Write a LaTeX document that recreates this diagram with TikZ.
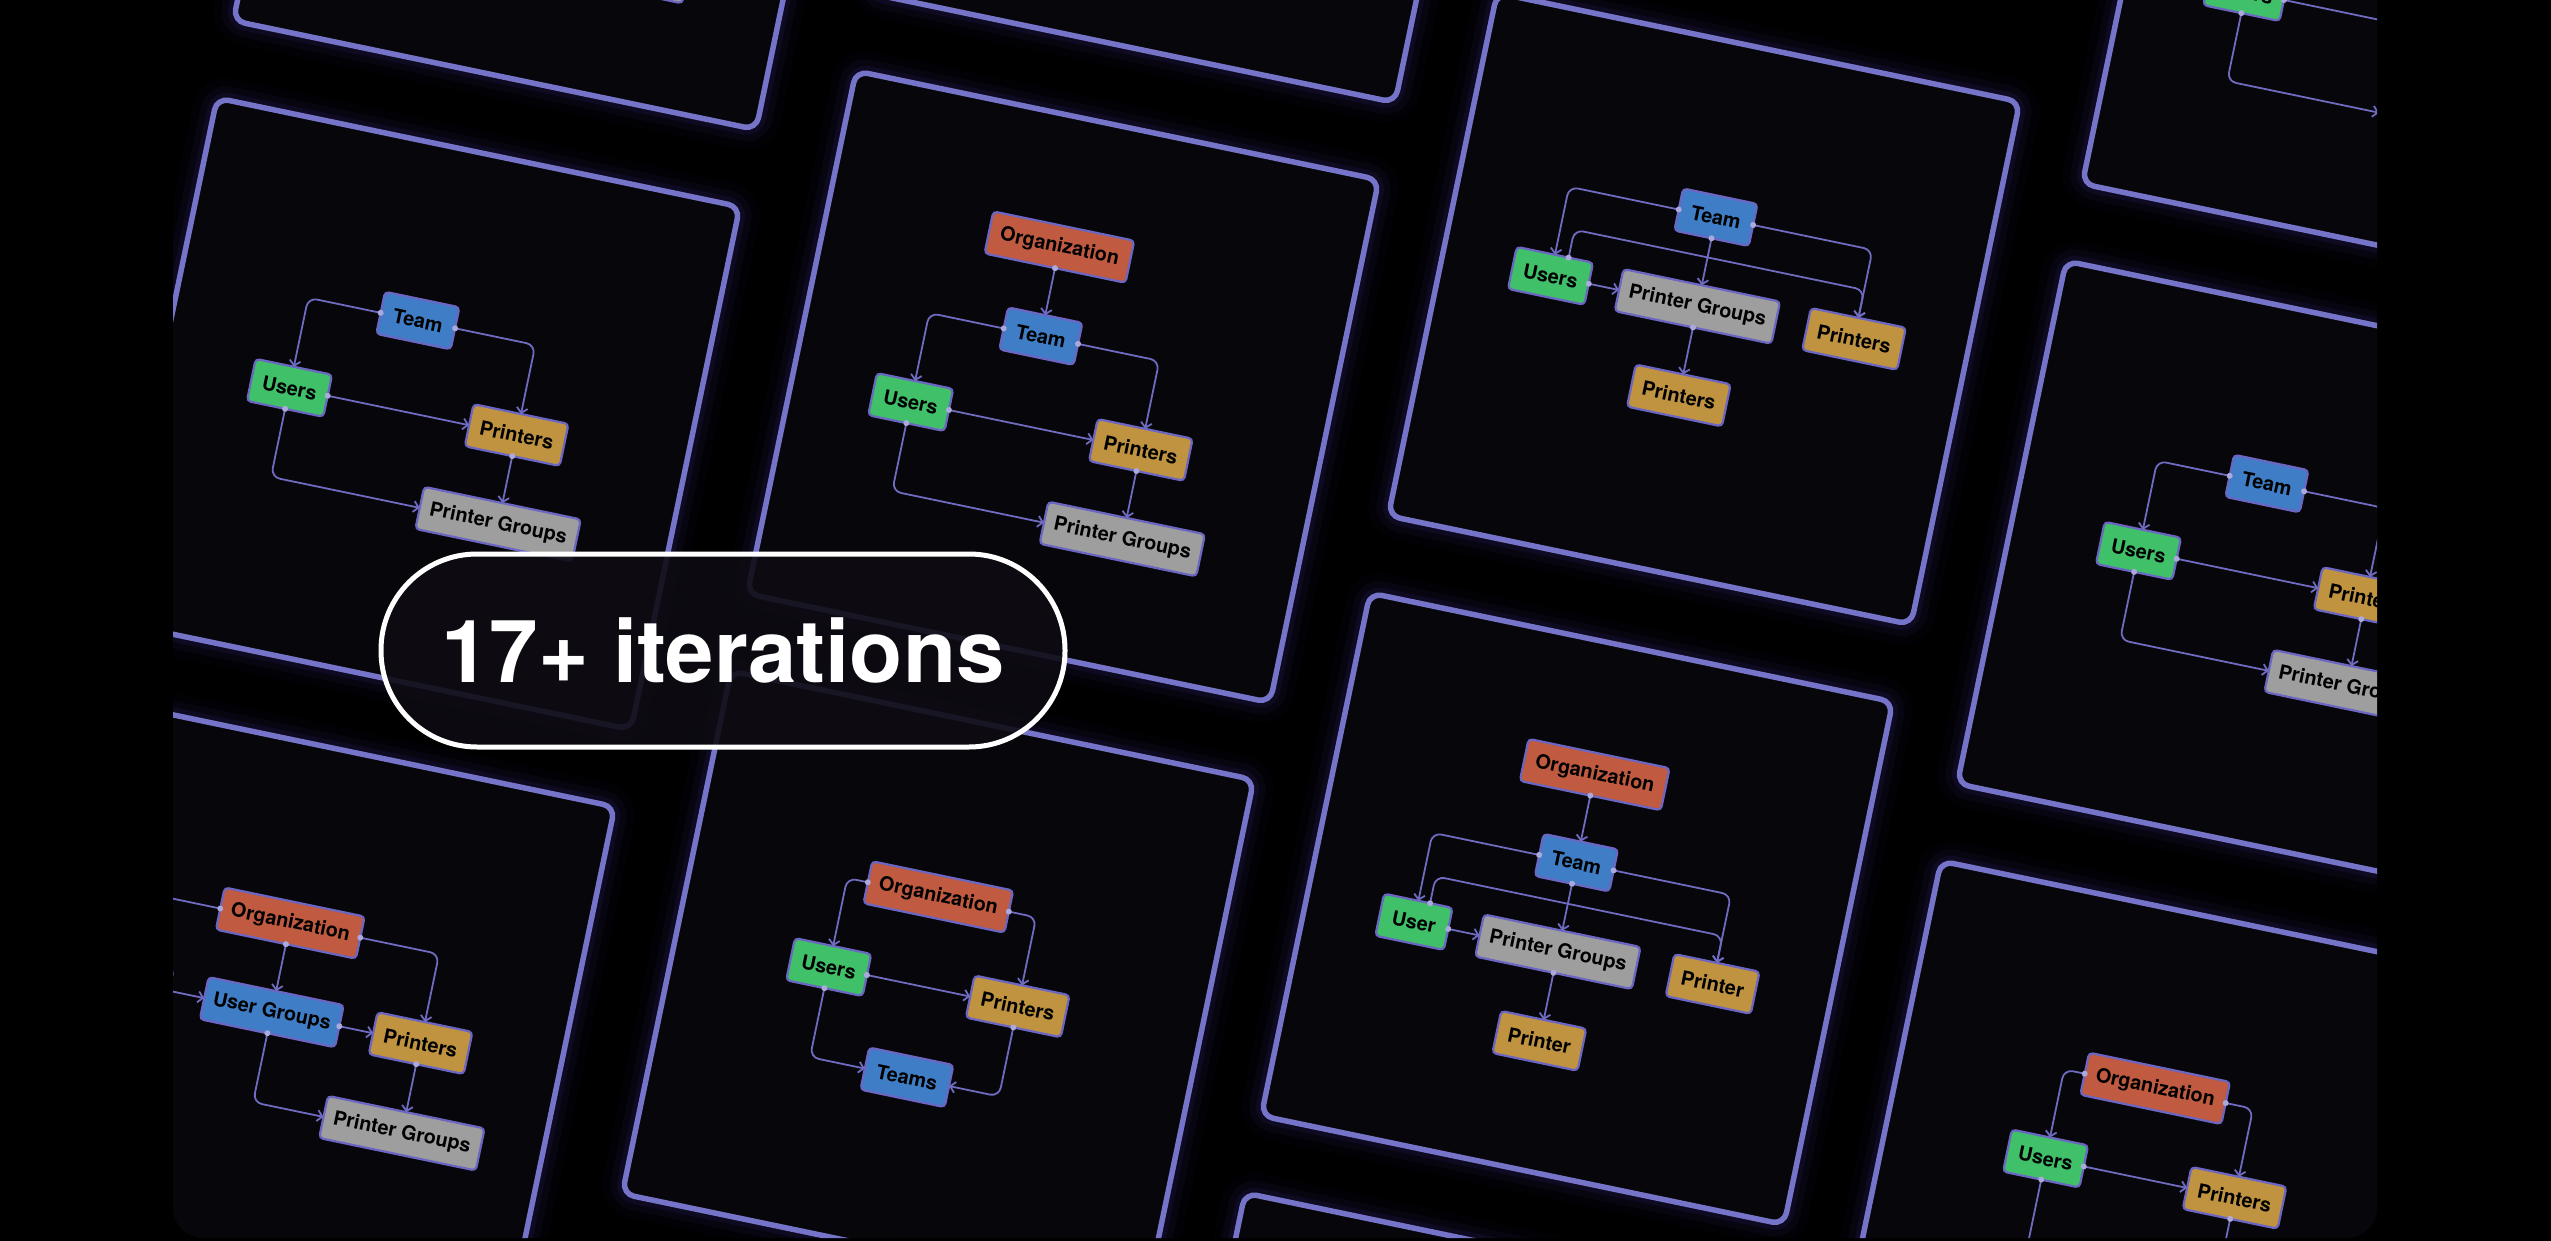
\documentclass[tikz,border=0pt]{standalone}
\usepackage{fontspec}
\setmainfont{TeX Gyre Heros}
\newfontfamily\lblfont{TeX Gyre Heros}
\usetikzlibrary{arrows.meta}
\definecolor{cardc}{HTML}{07060A}
\definecolor{edgec}{HTML}{7674C8}
\definecolor{glowc}{HTML}{5B45D6}
\definecolor{linec}{HTML}{6E6BC0}
\definecolor{nodeedge}{HTML}{6A66C2}
\definecolor{dotc}{HTML}{ABA9DC}
\definecolor{orgc}{HTML}{C05A40}
\definecolor{teamc}{HTML}{3F7EC6}
\definecolor{userc}{HTML}{40C068}
\definecolor{prnc}{HTML}{C09341}
\definecolor{pgc}{HTML}{9E9E9E}
\definecolor{pillc}{HTML}{0E0B13}
\tikzset{
  box/.style={draw=nodeedge, line width=2.2pt, rounded corners=4pt, minimum height=43pt,
    inner sep=0pt, outer sep=0pt, font=\lblfont\bfseries\fontsize{19.8}{22}\selectfont, text=black},
  orgbox/.style={box, fill=orgc, minimum width=144pt},
  teambox/.style={box, fill=teamc},
  userbox/.style={box, fill=userc},
  prnbox/.style={box, fill=prnc},
  pgbox/.style={box, fill=pgc, minimum width=160pt},
  cn/.style={draw=linec, line width=1.8pt, rounded corners=9pt,
    -{Straight Barb[length=5pt,width=11pt,line width=1.8pt]}},
  cardbody/.style={draw=edgec, fill=cardc, line width=5.5pt, rounded corners=12pt},
  glowline/.style={draw=glowc, rounded corners=12pt},
  pillbox/.style={draw=white, line width=5pt, fill=pillc, fill opacity=0.9, draw opacity=1,
    text opacity=1, text=white, rounded corners=96pt, minimum width=684pt, minimum height=193pt,
    inner sep=0pt, font=\fontsize{87}{90}\selectfont\bfseries}
}
\newcommand\srcdots[2]{\foreach \a in {#2} {\fill[dotc] (#1\a) circle[radius=3pt];}}
\newcommand\card[2]{%
  \begin{scope}[shift={#1}, rotate=-11.75, transform shape]
    \draw[glowline, line width=44pt, opacity=0.03] (0,0) rectangle (534,534);
    \draw[glowline, line width=28pt, opacity=0.05] (0,0) rectangle (534,534);
    \draw[glowline, line width=15pt, opacity=0.09] (0,0) rectangle (534,534);
    \draw[cardbody] (0,0) rectangle (534,534);
    #2
  \end{scope}}
% Organization / Team / Users / Printers / Printer Groups
\newcommand\layOne[1]{%
  \node[orgbox] (#1o) at (235,131) {Organization};
  \node[teambox, minimum width=76pt] (#1t) at (235,222) {Team};
  \node[userbox, minimum width=78pt] (#1u) at (121,313) {Users};
  \node[prnbox, minimum width=97pt] (#1p) at (356,313) {Printers};
  \node[pgbox] (#1g) at (356,404) {Printer Groups};
  \draw[cn] (#1o.south) -- (#1t.north);
  \draw[cn] (#1t.west) -- ++(-76,0) -- (#1u.north);
  \draw[cn] (#1t.east) -- ++(83,0) -- (#1p.north);
  \draw[cn] (#1u.east) -- (#1p.west);
  \draw[cn] (#1u.south) -- ++(0,69.5) -- (#1g.west);
  \draw[cn] (#1p.south) -- (#1g.north);
  \srcdots{#1}{o.south,t.west,t.east,u.east,u.south,p.south}}
% Team / Users / Printers / Printer Groups
\newcommand\layTwo[1]{%
  \node[teambox, minimum width=76pt] (#1t) at (242,177) {Team};
  \node[userbox, minimum width=78pt] (#1u) at (130,269) {Users};
  \node[prnbox, minimum width=97pt] (#1p) at (362,269) {Printers};
  \node[pgbox] (#1g) at (362,360) {Printer Groups};
  \draw[cn] (#1t.west) -- ++(-74,0) -- (#1u.north);
  \draw[cn] (#1t.east) -- ++(82,0) -- (#1p.north);
  \draw[cn] (#1u.east) -- (#1p.west);
  \draw[cn] (#1u.south) -- ++(0,69.5) -- (#1g.west);
  \draw[cn] (#1p.south) -- (#1g.north);
  \srcdots{#1}{t.west,t.east,u.east,u.south,p.south}}
% Organization / Team / User / Printer Groups / Printer / Printer
\newcommand\layThree[1]{%
  \node[orgbox] (#1o) at (257,132) {Organization};
  \node[teambox, minimum width=76pt] (#1t) at (257,222) {Team};
  \node[userbox, minimum width=70pt] (#1u) at (110,313) {User};
  \node[pgbox] (#1g) at (257,313) {Printer Groups};
  \node[prnbox, minimum width=87pt] (#1r) at (415,313) {Printer};
  \node[prnbox, minimum width=87pt] (#1b) at (257,404) {Printer};
  \draw[cn] (#1o.south) -- (#1t.north);
  \draw[cn] (#1t.west) -- ++(-109,0) -- (#1u.north);
  \draw[cn] (#1u.north) ++(12,0) -- ++(0,-27.5) -- ++(293,0) -- (#1r.north);
  \draw[cn] (#1t.east) -- ++(120,0) -- (#1r.north);
  \draw[cn] (#1t.south) -- (#1g.north);
  \draw[cn] (#1u.east) -- (#1g.west);
  \draw[cn] (#1g.south) -- (#1b.north);
  \fill[dotc] (#1u.north) ++(12,0) circle[radius=3pt];
  \srcdots{#1}{o.south,t.west,t.east,t.south,u.east,g.south}}
% Team / Users / Printer Groups / Printers / Printers
\newcommand\layFour[1]{%
  \node[teambox, minimum width=76pt] (#1t) at (260,175) {Team};
  \node[userbox, minimum width=78pt] (#1u) at (110,266) {Users};
  \node[pgbox] (#1g) at (260,266) {Printer Groups};
  \node[prnbox, minimum width=97pt] (#1r) at (420,266) {Printers};
  \node[prnbox, minimum width=97pt] (#1b) at (260,357) {Printers};
  \draw[cn] (#1t.west) -- ++(-112,0) -- (#1u.north);
  \draw[cn] (#1u.north) ++(14,0) -- ++(0,-28.5) -- ++(296,0) -- (#1r.north);
  \draw[cn] (#1t.east) -- ++(122,0) -- (#1r.north);
  \draw[cn] (#1t.south) -- (#1g.north);
  \draw[cn] (#1u.east) -- (#1g.west);
  \draw[cn] (#1g.south) -- (#1b.north);
  \fill[dotc] (#1u.north) ++(14,0) circle[radius=3pt];
  \srcdots{#1}{t.west,t.east,t.south,u.east,g.south}}
% Organization / Users / Printers / Teams
\newcommand\layFive[1]{%
  \node[orgbox] (#1o) at (249,179) {Organization};
  \node[userbox, minimum width=78pt] (#1u) at (156,270) {Users};
  \node[prnbox, minimum width=97pt] (#1p) at (349,270) {Printers};
  \node[teambox, minimum width=86pt] (#1t) at (255,362) {Teams};
  \draw[cn] (#1o.west) -- ++(-21,0) -- (#1u.north);
  \draw[cn] (#1o.east) -- ++(28,0) -- (#1p.north);
  \draw[cn] (#1u.east) -- (#1p.west);
  \draw[cn] (#1u.south) -- ++(0,70.5) -- (#1t.west);
  \draw[cn] (#1p.south) -- ++(0,70.5) -- (#1t.east);
  \srcdots{#1}{o.west,o.east,u.east,u.south,p.south}}
% Organization / User Groups / Printers / Printer Groups / Users
\newcommand\laySix[1]{%
  \node[orgbox, minimum width=143pt] (#1o) at (240,180) {Organization};
  \node[teambox, minimum width=138pt] (#1t) at (240,271) {User Groups};
  \node[prnbox, minimum width=97pt] (#1p) at (392,271) {Printers};
  \node[pgbox] (#1g) at (392,363) {Printer Groups};
  \node[userbox, minimum width=78pt] (#1u) at (96,271) {Users};
  \draw[cn] (#1o.south) -- (#1t.north);
  \draw[cn] (#1o.east) -- ++(80.5,0) -- (#1p.north);
  \draw[cn] (#1t.east) -- (#1p.west);
  \draw[cn] (#1t.south) -- ++(0,70.5) -- (#1g.west);
  \draw[cn] (#1p.south) -- (#1g.north);
  \draw[cn] (#1o.west) -- ++(-72.5,0) -- (#1u.north);
  \draw[cn] (#1u.east) -- (#1t.west);
  \srcdots{#1}{o.south,o.east,o.west,t.east,t.south,p.south,u.east}}
\begin{document}
\begin{tikzpicture}[x=1pt, y=-1pt]
\useasboundingbox (0,0) rectangle (2551,1241);
\fill[black] (0,0) rectangle (2551,1241);
\begin{scope}
  \clip[rounded corners=30pt] (173,-80) rectangle (2377,1238);
  \card{(342,-502)}{\node[pgbox] (aag) at (356,404) {Printer Groups};}
  \card{(217,98)}{\layTwo{ab}}
  \card{(92,698)}{\laySix{ac}}
  \card{(981,-529)}{}
  \card{(856,71)}{\layOne{ba}}
  \card{(731,671)}{\layFive{bb}}
  \card{(1497,-7)}{\layFour{ca}}
  \card{(1370,593)}{\layThree{cb}}
  \card{(1245,1193)}{}
  \card{(2191,-339)}{%
    \node[userbox, minimum width=78pt] (dau) at (121,313) {Users};
    \coordinate (dap) at (307.5,313);
    \coordinate (dag) at (276,404);
    \draw[cn] (dau.east) -- (dap);
    \draw[cn] (dau.south) -- ++(0,69.5) -- (dag);
    \srcdots{da}{u.east,u.south}}
  \card{(2066,261)}{\layTwo{db}}
  \card{(1941,861)}{\begin{scope}[shift={(7,0)}]\layFive{dc}\end{scope}}
\end{scope}
\node[pillbox] (pill) at (723,650.5) {17+ iterations};
\end{tikzpicture}
\end{document}
